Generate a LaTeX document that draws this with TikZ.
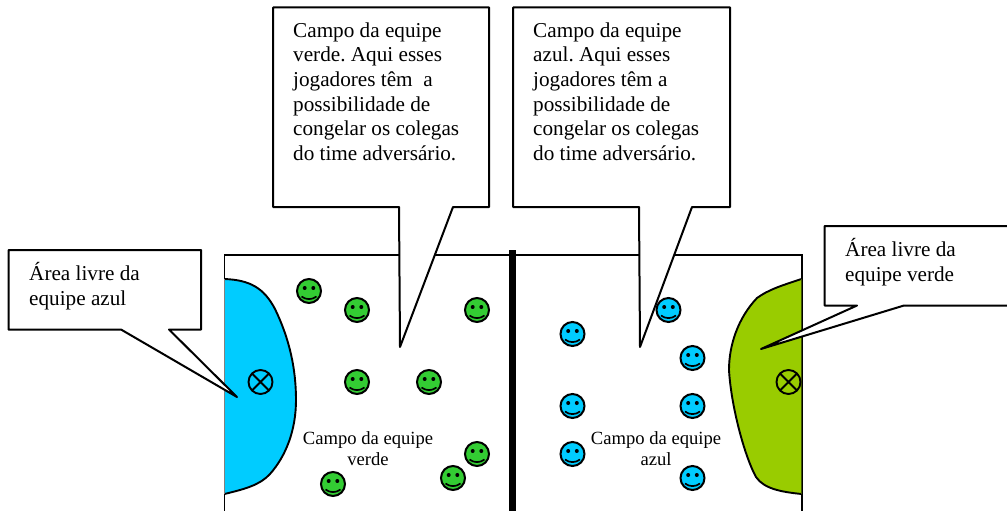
\documentclass[tikz,border=0pt]{standalone}
\usepackage{fontspec}
\setmainfont{Liberation Serif}
\frenchspacing
\tikzset{
  fieldline/.style={draw=black,line width=1.8pt,line join=miter},
  balloon/.style={draw=black,fill=white,line width=2pt,line join=round},
  balloontext/.style={anchor=base west,inner sep=0pt,align=left,font=\fontsize{21.2}{24.7}\selectfont},
  fieldtext/.style={anchor=base,inner sep=0pt,align=center,font=\fontsize{18.6}{20.5}\selectfont},
  facegreen/.style={fill=smgreen},
  faceblue/.style={fill=skyb},
  pics/smiley/.style={code={
    \fill[#1,draw=black,line width=2pt] (0,0) circle (12);
    \fill[black] (-4.3,-3) circle (2);
    \fill[black] (4.3,-3) circle (2);
    \draw[black,line width=1.7pt] (-7.5,5.5) .. controls (-3,9) and (3,9) .. (7.5,5.5);
  }},
  pics/crossmark/.style={code={
    \draw[black,line width=1.9pt] (0,0) circle (12);
    \draw[black,line width=1.9pt] (-8.5,-8.5) -- (8.5,8.5) (-8.5,8.5) -- (8.5,-8.5);
  }}
}
\definecolor{smgreen}{HTML}{33CC33}
\definecolor{skyb}{HTML}{00CCFF}
\definecolor{lime}{HTML}{99CC00}
\begin{document}
\begin{tikzpicture}[x=1pt,y=-1pt]
\useasboundingbox (0,0) rectangle (1007,511);
% field
\draw[fieldline] (224.5,511) -- (224.5,255) -- (802,255) -- (802,511);
% free areas
\fill[skyb] (224.5,279) .. controls (250,280) and (264,288) .. (275,309)
  .. controls (290,340) and (296,370) .. (296,400)
  .. controls (296,430) and (286,456) .. (270,474)
  .. controls (260,485) and (245,489) .. (224.5,494) -- cycle;
\draw[black,line width=1.9pt] (224.5,279) .. controls (250,280) and (264,288) .. (275,309)
  .. controls (290,340) and (296,370) .. (296,400)
  .. controls (296,430) and (286,456) .. (270,474)
  .. controls (260,485) and (245,489) .. (224.5,494);
\draw[gray,line width=0.8pt] (224.5,279) -- (224.5,494);
\fill[lime] (801.5,279) .. controls (780,286) and (768,290) .. (757,298)
  .. controls (738,318) and (729,345) .. (729,370)
  .. controls (731,405) and (744,455) .. (756,477)
  .. controls (764,489) and (782,492) .. (801.5,494) -- cycle;
\draw[black,line width=1.9pt] (801.5,279) .. controls (780,286) and (768,290) .. (757,298)
  .. controls (738,318) and (729,345) .. (729,370)
  .. controls (731,405) and (744,455) .. (756,477)
  .. controls (764,489) and (782,492) .. (801.5,494);
\draw[black!60!lime,line width=1pt] (801.5,279) -- (801.5,494);
% divider
\fill[black] (509,250) rectangle (516,511);
% balloons
\draw[balloon] (273,7.5) -- (489,7.5) -- (489,207) -- (453,207) -- (400,347) -- (399,207) -- (273,207) -- cycle;
\draw[balloon] (513,7.5) -- (730,7.5) -- (730,207) -- (692,207) -- (640,347) -- (639,207) -- (513,207) -- cycle;
\draw[balloon] (8.5,250) -- (201,250) -- (201,329.5) -- (169,329.5) -- (237,397) -- (121,329.5) -- (8.5,329.5) -- cycle;
\draw[balloon] (1012,226) -- (824.5,226) -- (824.5,305.5) -- (857,305.5) -- (761,349) -- (904,305.5) -- (1012,305.5);
% texts
\node[balloontext] (tgreen) at (293,160.5) {Campo da equipe\\verde. Aqui esses\\jogadores têm~ a\\possibilidade de\\congelar os colegas\\do time adversário.};
\node[balloontext] (tblue) at (533,160.5) {Campo da equipe\\azul. Aqui esses\\jogadores têm a\\possibilidade de\\congelar os colegas\\do time adversário.};
\node[balloontext] (tfreeb) at (29,305) {Área livre da\\equipe azul};
\node[balloontext] (tfreeg) at (845,281) {Área livre da\\equipe verde};
\node[fieldtext] (fgreen) at (368,465) {Campo da equipe\\verde};
\node[fieldtext] (fblue) at (656,465) {Campo da equipe\\azul};
% crosses
\pic at (260.5,382) {crossmark};
\pic at (788.5,382) {crossmark};
% players
\foreach \px/\py in {309/291,357/310,477/310,357/382,429/382,477/454,453/478,333/484}
  \pic at (\px,\py) {smiley=facegreen};
\foreach \px/\py in {668.5/310,572.5/334,692.5/358,572.5/406,692.5/406,572.5/454,692.5/478}
  \pic at (\px,\py) {smiley=faceblue};
\end{tikzpicture}
\end{document}
